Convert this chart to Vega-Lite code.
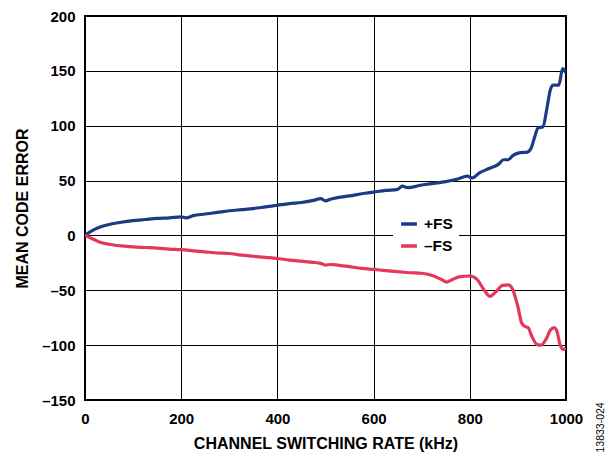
{
  "$schema": "https://vega.github.io/schema/vega-lite/v6.json",
  "width": 481,
  "height": 384,
  "autosize": "none",
  "padding": {"left": 85, "top": 16, "right": 44, "bottom": 52},
  "background": "white",
  "config": {
    "font": "Liberation Sans",
    "view": {"stroke": "black", "strokeWidth": 2},
    "axis": {
      "grid": true, "gridColor": "black", "gridOpacity": 1, "gridWidth": 1,
      "ticks": false, "domain": false, "labelFlush": false,
      "labelFont": "Liberation Sans", "labelFontWeight": "bold", "labelFontSize": 15, "labelColor": "black",
      "titleFont": "Liberation Sans", "titleFontWeight": "bold", "titleFontSize": 16, "titleColor": "black"
    }
  },
  "datasets": {
    "curves": [
      {"rate": 0, "err": 0, "s": "+FS"}, {"rate": 10, "err": 3, "s": "+FS"}, {"rate": 20, "err": 5.5, "s": "+FS"},
      {"rate": 30, "err": 7.5, "s": "+FS"}, {"rate": 50, "err": 10, "s": "+FS"}, {"rate": 75, "err": 12, "s": "+FS"},
      {"rate": 100, "err": 13.5, "s": "+FS"}, {"rate": 125, "err": 14.5, "s": "+FS"}, {"rate": 150, "err": 15.5, "s": "+FS"},
      {"rate": 175, "err": 16, "s": "+FS"}, {"rate": 200, "err": 17, "s": "+FS"}, {"rate": 210, "err": 16, "s": "+FS"},
      {"rate": 225, "err": 18, "s": "+FS"}, {"rate": 250, "err": 19.5, "s": "+FS"}, {"rate": 275, "err": 21, "s": "+FS"},
      {"rate": 300, "err": 22.5, "s": "+FS"}, {"rate": 325, "err": 23.5, "s": "+FS"}, {"rate": 350, "err": 24.5, "s": "+FS"},
      {"rate": 375, "err": 26, "s": "+FS"}, {"rate": 400, "err": 27.5, "s": "+FS"}, {"rate": 425, "err": 29, "s": "+FS"},
      {"rate": 450, "err": 30, "s": "+FS"}, {"rate": 475, "err": 32, "s": "+FS"}, {"rate": 490, "err": 33.5, "s": "+FS"},
      {"rate": 500, "err": 31.5, "s": "+FS"}, {"rate": 510, "err": 33, "s": "+FS"}, {"rate": 525, "err": 34.5, "s": "+FS"},
      {"rate": 550, "err": 36, "s": "+FS"}, {"rate": 575, "err": 38, "s": "+FS"}, {"rate": 600, "err": 39.5, "s": "+FS"},
      {"rate": 625, "err": 41, "s": "+FS"}, {"rate": 650, "err": 42, "s": "+FS"}, {"rate": 660, "err": 45, "s": "+FS"},
      {"rate": 670, "err": 43.5, "s": "+FS"}, {"rate": 700, "err": 46, "s": "+FS"}, {"rate": 725, "err": 47.5, "s": "+FS"},
      {"rate": 750, "err": 49, "s": "+FS"}, {"rate": 775, "err": 51.5, "s": "+FS"}, {"rate": 795, "err": 54, "s": "+FS"},
      {"rate": 805, "err": 52.5, "s": "+FS"}, {"rate": 820, "err": 57, "s": "+FS"}, {"rate": 840, "err": 61, "s": "+FS"},
      {"rate": 860, "err": 65, "s": "+FS"}, {"rate": 870, "err": 69, "s": "+FS"}, {"rate": 880, "err": 69, "s": "+FS"},
      {"rate": 890, "err": 73, "s": "+FS"}, {"rate": 905, "err": 75.5, "s": "+FS"}, {"rate": 920, "err": 76, "s": "+FS"},
      {"rate": 928, "err": 80, "s": "+FS"}, {"rate": 935, "err": 90, "s": "+FS"}, {"rate": 942, "err": 98, "s": "+FS"},
      {"rate": 952, "err": 99, "s": "+FS"}, {"rate": 960, "err": 115, "s": "+FS"}, {"rate": 967, "err": 132, "s": "+FS"},
      {"rate": 973, "err": 137, "s": "+FS"}, {"rate": 985, "err": 137, "s": "+FS"}, {"rate": 993, "err": 152, "s": "+FS"},
      {"rate": 1000, "err": 148, "s": "+FS"},
      {"rate": 0, "err": 0, "s": "–FS"}, {"rate": 10, "err": -2, "s": "–FS"}, {"rate": 20, "err": -4, "s": "–FS"},
      {"rate": 30, "err": -6, "s": "–FS"}, {"rate": 50, "err": -8, "s": "–FS"}, {"rate": 75, "err": -9.5, "s": "–FS"},
      {"rate": 100, "err": -10.5, "s": "–FS"}, {"rate": 125, "err": -11, "s": "–FS"}, {"rate": 150, "err": -11.5, "s": "–FS"},
      {"rate": 175, "err": -12.5, "s": "–FS"}, {"rate": 200, "err": -13, "s": "–FS"}, {"rate": 225, "err": -14, "s": "–FS"},
      {"rate": 250, "err": -15, "s": "–FS"}, {"rate": 275, "err": -16, "s": "–FS"}, {"rate": 300, "err": -16.5, "s": "–FS"},
      {"rate": 325, "err": -18, "s": "–FS"}, {"rate": 350, "err": -19, "s": "–FS"}, {"rate": 375, "err": -20, "s": "–FS"},
      {"rate": 400, "err": -21, "s": "–FS"}, {"rate": 425, "err": -22.5, "s": "–FS"}, {"rate": 450, "err": -23.5, "s": "–FS"},
      {"rate": 475, "err": -24.5, "s": "–FS"}, {"rate": 490, "err": -25.5, "s": "–FS"}, {"rate": 500, "err": -27, "s": "–FS"},
      {"rate": 510, "err": -26.5, "s": "–FS"}, {"rate": 525, "err": -27, "s": "–FS"}, {"rate": 550, "err": -28.5, "s": "–FS"},
      {"rate": 575, "err": -30, "s": "–FS"}, {"rate": 600, "err": -31, "s": "–FS"}, {"rate": 625, "err": -32, "s": "–FS"},
      {"rate": 650, "err": -33, "s": "–FS"}, {"rate": 675, "err": -34, "s": "–FS"}, {"rate": 700, "err": -34.5, "s": "–FS"},
      {"rate": 725, "err": -37, "s": "–FS"}, {"rate": 740, "err": -40, "s": "–FS"}, {"rate": 752, "err": -42.5, "s": "–FS"},
      {"rate": 765, "err": -40, "s": "–FS"}, {"rate": 780, "err": -37.5, "s": "–FS"}, {"rate": 800, "err": -37, "s": "–FS"},
      {"rate": 815, "err": -40, "s": "–FS"}, {"rate": 830, "err": -50, "s": "–FS"}, {"rate": 842, "err": -55.5, "s": "–FS"},
      {"rate": 855, "err": -51, "s": "–FS"}, {"rate": 868, "err": -45.5, "s": "–FS"}, {"rate": 880, "err": -45, "s": "–FS"},
      {"rate": 890, "err": -50, "s": "–FS"}, {"rate": 900, "err": -65, "s": "–FS"}, {"rate": 908, "err": -80, "s": "–FS"},
      {"rate": 915, "err": -83, "s": "–FS"}, {"rate": 921, "err": -84, "s": "–FS"}, {"rate": 930, "err": -93, "s": "–FS"},
      {"rate": 940, "err": -99.5, "s": "–FS"}, {"rate": 948, "err": -100, "s": "–FS"}, {"rate": 958, "err": -95, "s": "–FS"},
      {"rate": 968, "err": -86, "s": "–FS"}, {"rate": 975, "err": -84, "s": "–FS"}, {"rate": 980, "err": -86, "s": "–FS"},
      {"rate": 988, "err": -100, "s": "–FS"}, {"rate": 995, "err": -104, "s": "–FS"}, {"rate": 1000, "err": -103, "s": "–FS"}
    ]
  },
  "data": {"name": "curves"},
  "layer": [
    {
      "mark": {"type": "line", "interpolate": "monotone", "strokeWidth": 3.2, "clip": true},
      "encoding": {
        "x": {
          "field": "rate", "type": "quantitative",
          "scale": {"domain": [0, 1000], "nice": false},
          "axis": {"values": [0, 200, 400, 600, 800, 1000], "format": "d", "title": "CHANNEL SWITCHING RATE (kHz)", "labelPadding": 11, "titlePadding": 9}
        },
        "y": {
          "field": "err", "type": "quantitative",
          "scale": {"domain": [-150, 200], "nice": false},
          "axis": {
            "values": [-150, -100, -50, 0, 50, 100, 150, 200],
            "labelExpr": "datum.value < 0 ? '–' + abs(datum.value) : datum.label",
            "title": "MEAN CODE ERROR", "labelPadding": 10, "titlePadding": 11
          }
        },
        "color": {
          "field": "s", "type": "nominal",
          "scale": {"domain": ["+FS", "–FS"], "range": ["#1c3a85", "#e5365b"]},
          "legend": {
            "title": null, "orient": "none", "legendX": 308, "legendY": 192,
            "fillColor": "white", "padding": 6,
            "symbolType": "stroke", "symbolStrokeWidth": 3.5, "symbolSize": 250,
            "labelFont": "Liberation Sans", "labelFontWeight": "bold", "labelFontSize": 15.5, "labelColor": "black",
            "rowPadding": 3, "labelOffset": 5
          }
        }
      }
    },
    {
      "mark": {"type": "line", "opacity": 0},
      "encoding": {
        "x": {"field": "rate", "type": "quantitative"},
        "y": {
          "field": "err", "type": "quantitative",
          "axis": {
            "orient": "right", "grid": false, "labels": false, "title": "13833-024",
            "titleFontWeight": "normal", "titleFontSize": 10.5, "titleAngle": 270,
            "titleAnchor": "start", "titleY": 436, "titleX": 34, "titleBaseline": "middle"
          }
        },
        "color": {"field": "s", "type": "nominal"}
      }
    }
  ],
  "resolve": {"axis": {"y": "independent"}}
}
